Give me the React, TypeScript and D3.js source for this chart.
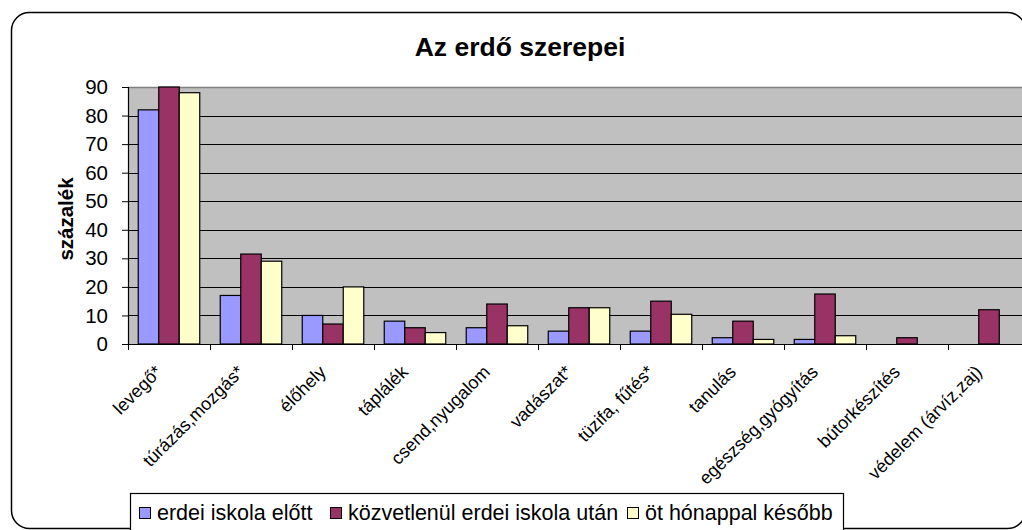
import React, { useEffect, useRef } from "react";
import * as d3 from "d3";

const categories = [
  "levegő*",
  "túrázás,mozgás*",
  "élőhely",
  "táplálék",
  "csend,nyugalom",
  "vadászat*",
  "tüzifa, fűtés*",
  "tanulás",
  "egészség,gyógyítás",
  "bútorkészítés",
  "védelem (árvíz,zaj)",
];

const seriesNames = [
  "erdei iskola előtt",
  "közvetlenül erdei iskola után",
  "öt hónappal később",
];

const before = [82, 17, 10, 8, 5.7, 4.5, 4.5, 2.2, 1.6, 0, 0];
const rightAfter = [90, 31.5, 7, 5.7, 14, 12.7, 15, 8, 17.5, 2.2, 12];
const fiveMonths = [88, 29, 20, 4, 6.4, 12.7, 10.4, 1.6, 2.9, 0, 0];

const yTicks = [0, 10, 20, 30, 40, 50, 60, 70, 80, 90];
const colors = ["#9999FF", "#993366", "#FFFFCC"];

const FONT = "'Liberation Sans', Arial, sans-serif";

export default function App() {
  const svgRef = useRef<SVGSVGElement | null>(null);

  useEffect(() => {
    document.body.style.margin = "0";
    const svg = d3.select(svgRef.current);
    svg.selectAll("*").remove();

    const left = 128;
    const top = 87;
    const bottom = 344;
    const catW = 82;
    const right = left + catW * categories.length;

    const x = d3.scaleBand().domain(categories).range([left, right]);

    // excel style: gap width 150% -> 0.75 bar on each side
    const inner = d3
      .scaleBand()
      .domain(seriesNames)
      .range([0, catW])
      .paddingOuter(0.5);

    const y = d3.scaleLinear().domain([0, 90]).range([bottom, top]);

    // outer rounded frame
    svg
      .append("rect")
      .attr("x", 11.5)
      .attr("y", 12.5)
      .attr("width", 1014)
      .attr("height", 516)
      .attr("rx", 18)
      .attr("fill", "white")
      .attr("stroke", "black")
      .attr("stroke-width", 1.5);

    // plot background
    svg
      .append("rect")
      .attr("x", left)
      .attr("y", top)
      .attr("width", right - left)
      .attr("height", bottom - top)
      .attr("fill", "#C0C0C0");

    svg
      .append("line")
      .attr("x1", left)
      .attr("x2", right)
      .attr("y1", top + 0.5)
      .attr("y2", top + 0.5)
      .attr("stroke", "#808080")
      .attr("stroke-width", 1.5);

    // gridlines
    svg
      .append("g")
      .selectAll("line")
      .data(yTicks.filter((t) => t > 0 && t < 90))
      .enter()
      .append("line")
      .attr("x1", left)
      .attr("x2", right)
      .attr("y1", (d) => Math.round(y(d)) + 0.5)
      .attr("y2", (d) => Math.round(y(d)) + 0.5)
      .attr("stroke", "black");

    // bars
    [before, rightAfter, fiveMonths].forEach((vals, si) => {
      const rows = vals.map((v, i) => ({ cat: categories[i], v }));
      svg
        .append("g")
        .selectAll("rect")
        .data(rows.filter((r) => r.v > 0))
        .enter()
        .append("rect")
        .attr("x", (r) => (x(r.cat) as number) + (inner(seriesNames[si]) as number))
        .attr("y", (r) => y(r.v))
        .attr("width", inner.bandwidth())
        .attr("height", (r) => bottom - y(r.v))
        .attr("fill", colors[si])
        .attr("stroke", "black")
        .attr("stroke-width", 1.2);
    });

    // y axis
    const yAxis = svg
      .append("g")
      .attr("transform", `translate(${left},0)`)
      .call(d3.axisLeft(y).tickValues(yTicks).tickSize(6).tickPadding(14));
    yAxis.select(".domain").attr("stroke", "black").attr("stroke-width", 1.2);
    yAxis.selectAll(".tick line").attr("stroke", "black");
    yAxis
      .selectAll(".tick text")
      .attr("font-family", FONT)
      .attr("font-size", 20.5)
      .attr("fill", "black");

    // x axis
    const xg = svg.append("g").attr("transform", `translate(0,${bottom})`);
    xg.append("line")
      .attr("x1", left)
      .attr("x2", right)
      .attr("y1", 0.5)
      .attr("y2", 0.5)
      .attr("stroke", "black")
      .attr("stroke-width", 1.2);
    xg.selectAll("line.tick")
      .data(categories)
      .enter()
      .append("line")
      .attr("class", "tick")
      .attr("x1", (c) => (x(c) as number) + 0.5)
      .attr("x2", (c) => (x(c) as number) + 0.5)
      .attr("y1", 0)
      .attr("y2", 6)
      .attr("stroke", "black");
    xg.selectAll("text")
      .data(categories)
      .enter()
      .append("text")
      .attr(
        "transform",
        (c) => `translate(${(x(c) as number) + x.bandwidth() / 2 - 15},${20}) rotate(-45)`
      )
      .attr("text-anchor", "end")
      .attr("dy", "0.71em")
      .attr("font-family", FONT)
      .attr("font-size", 18)
      .attr("fill", "black")
      .text((c) => c);

    // title
    svg
      .append("text")
      .attr("x", 520)
      .attr("y", 56)
      .attr("text-anchor", "middle")
      .attr("font-family", FONT)
      .attr("font-weight", "bold")
      .attr("font-size", 26.5)
      .text("Az erdő szerepei");

    // y title
    svg
      .append("text")
      .attr("transform", `translate(73,219) rotate(-90)`)
      .attr("text-anchor", "middle")
      .attr("font-family", FONT)
      .attr("font-weight", "bold")
      .attr("font-size", 20.5)
      .text("százalék");

    // legend
    const lg = svg.append("g");
    lg.append("rect")
      .attr("x", 130.5)
      .attr("y", 493.5)
      .attr("width", 713)
      .attr("height", 45)
      .attr("fill", "white")
      .attr("stroke", "black")
      .attr("stroke-width", 1.2);
    const legendX = [139, 330, 627];
    seriesNames.forEach((name, i) => {
      lg.append("rect")
        .attr("x", legendX[i] + 0.5)
        .attr("y", 507.5)
        .attr("width", 11)
        .attr("height", 11)
        .attr("fill", colors[i])
        .attr("stroke", "black");
      lg.append("text")
        .attr("x", legendX[i] + 18)
        .attr("y", 520)
        .attr("font-family", FONT)
        .attr("font-size", 21.5)
        .text(name);
    });
  }, []);

  return <svg ref={svgRef} width={1022} height={530} style={{ display: "block" }} />;
}
